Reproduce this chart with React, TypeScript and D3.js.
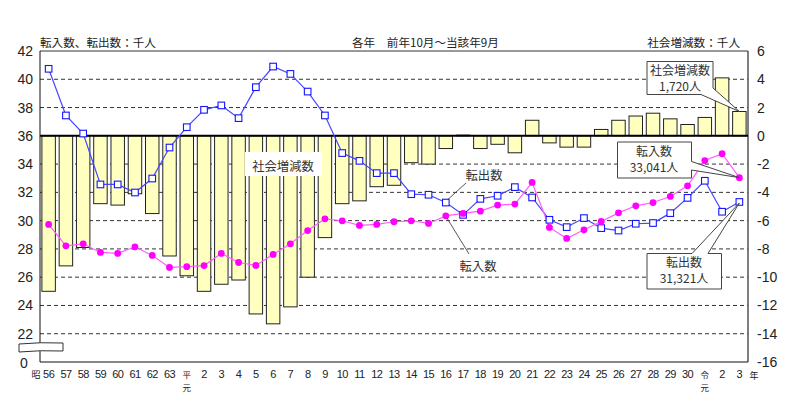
import { line, scaleBand, scaleLinear } from "d3";

const WIDTH = 800;
const HEIGHT = 396;
const PLOT = { left: 40, right: 748, top: 51, bottom: 362 };

const JP = "'Noto Sans CJK JP', 'Noto Sans', sans-serif";
const NUM = "'Liberation Sans', Arial, sans-serif";

// 年度（前年10月～当該年9月）
const CATEGORIES = [
  "昭56", "昭57", "昭58", "昭59", "昭60", "昭61", "昭62", "昭63",
  "平元", "平2", "平3", "平4", "平5", "平6", "平7", "平8", "平9", "平10",
  "平11", "平12", "平13", "平14", "平15", "平16", "平17", "平18", "平19",
  "平20", "平21", "平22", "平23", "平24", "平25", "平26", "平27", "平28",
  "平29", "平30", "令元", "令2", "令3",
];

// 社会増減数（千人）
const NET_MIGRATION = [
  -11.0, -9.2, -7.9, -4.8, -4.9, -4.1, -5.5, -8.5, -9.9, -11.0, -10.5,
  -10.2, -12.6, -13.3, -12.1, -10.0, -7.2, -4.8, -4.6, -3.6, -3.5, -1.9,
  -2.0, -0.9, 0.05, -0.9, -0.6, -1.2, 1.1, -0.5, -0.8, -0.8, 0.45, 1.1,
  1.4, 1.6, 1.2, 0.8, 1.3, 4.1, 1.72,
];

// 転入数（千人）
const MOVE_IN = [
  29.73, 28.22, 28.36, 27.75, 27.68, 28.15, 27.54, 26.69, 26.74, 26.82,
  27.68, 27.04, 26.83, 27.61, 28.36, 29.3, 30.13, 29.99, 29.66, 29.73,
  29.92, 29.99, 29.8, 30.34, 30.51, 30.67, 31.1, 31.17, 32.7, 29.52, 28.74,
  29.35, 29.94, 30.55, 31.05, 31.28, 31.71, 32.46, 34.25, 34.73, 33.041,
];

// 転出数（千人）
const MOVE_OUT = [
  40.74, 37.44, 36.16, 32.56, 32.56, 31.99, 32.98, 35.17, 36.61, 37.84,
  38.15, 37.25, 39.44, 40.9, 40.38, 39.13, 37.44, 34.78, 34.23, 33.36,
  33.36, 31.87, 31.83, 31.28, 30.41, 31.54, 31.76, 32.37, 31.64, 30.06,
  29.54, 30.18, 29.47, 29.3, 29.78, 29.83, 30.53, 31.61, 32.82, 30.63,
  31.321,
];

const LEFT_TICKS = [22, 24, 26, 28, 30, 32, 34, 36, 38, 40, 42];
const RIGHT_TICKS = [-16, -14, -12, -10, -8, -6, -4, -2, 0, 2, 4, 6];

export default function App() {
  const x = scaleBand<string>()
    .domain(CATEGORIES)
    .range([PLOT.left, PLOT.right])
    .paddingInner(0.22)
    .paddingOuter(0.11);
  const yLeft = scaleLinear().domain([20, 42]).range([PLOT.bottom, PLOT.top]);
  const yRight = scaleLinear().domain([-16, 6]).range([PLOT.bottom, PLOT.top]);
  const cx = (i: number) => (x(CATEGORIES[i]) ?? 0) + x.bandwidth() / 2;

  const pathOf = line<number>()
    .x((_, i) => cx(i))
    .y((d) => yLeft(d));

  const last = CATEGORIES.length - 1;
  const tipNet = [cx(last), yRight(NET_MIGRATION[last])];
  const tipIn = [cx(last), yLeft(MOVE_IN[last])];
  const tipOut = [cx(last), yLeft(MOVE_OUT[last])];
  const i23 = 23;

  return (
    <svg
      width={WIDTH}
      height={HEIGHT}
      style={{ position: "absolute", left: 0, top: 0, background: "#fff" }}
    >
      {/* header */}
      <text x={40} y={47} fontFamily={JP} fontSize={11.6} fill="#222">
        転入数、転出数：千人
      </text>
      <text x={352} y={47} fontFamily={JP} fontSize={11.6} fill="#222">
        各年　前年10月～当該年9月
      </text>
      <text x={740} y={47} textAnchor="end" fontFamily={JP} fontSize={11.6} fill="#222">
        社会増減数：千人
      </text>

      {/* grid */}
      {LEFT_TICKS.filter((t) => t !== 36 && t !== 42).map((t) => (
        <line
          key={t}
          x1={PLOT.left}
          x2={PLOT.right}
          y1={yLeft(t)}
          y2={yLeft(t)}
          stroke="#333"
          strokeDasharray="4,3"
        />
      ))}

      {/* bars */}
      {NET_MIGRATION.map((v, i) => (
        <rect
          key={CATEGORIES[i]}
          x={x(CATEGORIES[i])}
          y={Math.min(yRight(v), yRight(0))}
          width={x.bandwidth()}
          height={Math.abs(yRight(v) - yRight(0))}
          fill="#ffffc0"
          stroke="#222"
          strokeWidth={1}
        />
      ))}

      {/* frame */}
      <line x1={PLOT.left} x2={PLOT.right} y1={PLOT.top} y2={PLOT.top} stroke="#777" strokeWidth={1.5} />
      <line x1={PLOT.right} x2={PLOT.right} y1={PLOT.top} y2={PLOT.bottom} stroke="#555" strokeWidth={1.5} />
      <line x1={PLOT.left} x2={PLOT.right} y1={PLOT.bottom} y2={PLOT.bottom} stroke="#111" strokeWidth={1.2} />
      <line x1={PLOT.left} x2={PLOT.left} y1={PLOT.top} y2={PLOT.bottom} stroke="#111" strokeWidth={1} />
      <line x1={PLOT.left} x2={PLOT.right} y1={yRight(0)} y2={yRight(0)} stroke="#000" strokeWidth={2} />

      {/* axis break */}
      <path
        d="M19,344 Q40,342 63,343 L63,351 Q40,350 19,352 Z"
        fill="#fff"
        stroke="#333"
        strokeWidth={1}
      />

      {/* left ticks */}
      {LEFT_TICKS.map((t) => (
        <text key={t} x={33} y={yLeft(t) + 5} textAnchor="end" fontFamily={NUM} fontSize={14} fill="#222">
          {t}
        </text>
      ))}
      <text x={24} y={yLeft(20) + 6} textAnchor="middle" fontFamily={NUM} fontSize={14} fill="#222">
        0
      </text>

      {/* right ticks */}
      {RIGHT_TICKS.map((t) => (
        <text key={t} x={757} y={yRight(t) + 5} fontFamily={NUM} fontSize={14} fill="#222">
          {t}
        </text>
      ))}

      {/* x labels */}
      {CATEGORIES.map((c, i) => {
        const px = cx(i);
        if (c.endsWith("元")) {
          return (
            <g key={c} fontFamily={JP} fontSize={8.5} fill="#222" textAnchor="middle">
              <text x={px} y={378}>{c[0]}</text>
              <text x={px} y={391}>元</text>
            </g>
          );
        }
        return (
          <text
            key={c}
            x={px}
            y={378}
            textAnchor="middle"
            fontFamily={NUM}
            fontSize={11}
            letterSpacing={-0.6}
            fill="#222"
          >
            {c.slice(1)}
          </text>
        );
      })}
      <text x={cx(0) - 8} y={378} textAnchor="end" fontFamily={JP} fontSize={9} fill="#222">
        昭
      </text>
      <text x={754} y={379} textAnchor="middle" fontFamily={JP} fontSize={9} fill="#222">
        年
      </text>

      {/* lines */}
      <path d={pathOf(MOVE_OUT) ?? ""} fill="none" stroke="#4646ff" strokeWidth={1.2} />
      <path d={pathOf(MOVE_IN) ?? ""} fill="none" stroke="#ff5cff" strokeWidth={1.2} />
      {MOVE_OUT.map((v, i) => (
        <rect
          key={`o${i}`}
          x={cx(i) - 3.3}
          y={yLeft(v) - 3.3}
          width={6.6}
          height={6.6}
          fill="#fff"
          stroke="#1515ff"
          strokeWidth={1.1}
        />
      ))}
      {MOVE_IN.map((v, i) => (
        <circle key={`i${i}`} cx={cx(i)} cy={yLeft(v)} r={3.4} fill="#ff00ff" />
      ))}

      {/* in-chart labels */}
      <rect x={245} y={152} width={77} height={24} fill="#fff" />
      <text x={283} y={171} textAnchor="middle" fontFamily={JP} fontSize={12.3} fill="#333">
        社会増減数
      </text>
      <line x1={466} y1={183} x2={cx(i23) + 2} y2={yLeft(MOVE_OUT[i23]) - 3} stroke="#444" strokeWidth={0.9} />
      <text x={484} y={180} textAnchor="middle" fontFamily={JP} fontSize={12.3} fill="#333">
        転出数
      </text>
      <line x1={469} y1={254} x2={cx(i23) + 1} y2={yLeft(MOVE_IN[i23]) + 2} stroke="#444" strokeWidth={0.9} />
      <text x={478} y={271} textAnchor="middle" fontFamily={JP} fontSize={12.3} fill="#333">
        転入数
      </text>

      {/* callouts */}
      <g fontFamily={JP} fontSize={12} fill="#333" textAnchor="middle">
        <path
          d={`M647,61.5 L713,61.5 L713,88 L${tipNet[0]},${tipNet[1]} L701,94.5 L647,94.5 Z`}
          fill="#fff"
          stroke="#444"
          strokeWidth={1}
        />
        <text x={680} y={75}>社会増減数</text>
        <text x={680} y={91}>1,720人</text>

        <path
          d={`M617.5,142 L691.5,142 L691.5,161.5 L${tipIn[0]},${tipIn[1]} L691.5,170 L691.5,178 L617.5,178 Z`}
          fill="#fff"
          stroke="#444"
          strokeWidth={1}
        />
        <text x={654} y={156}>転入数</text>
        <text x={654} y={172}>33,041人</text>

        <path
          d={`M647,253.5 L692,253.5 L${tipOut[0]},${tipOut[1] + 1} L708,253.5 L721.5,253.5 L721.5,289 L647,289 Z`}
          fill="#fff"
          stroke="#444"
          strokeWidth={1}
        />
        <text x={684} y={267}>転出数</text>
        <text x={684} y={283}>31,321人</text>
      </g>
    </svg>
  );
}
